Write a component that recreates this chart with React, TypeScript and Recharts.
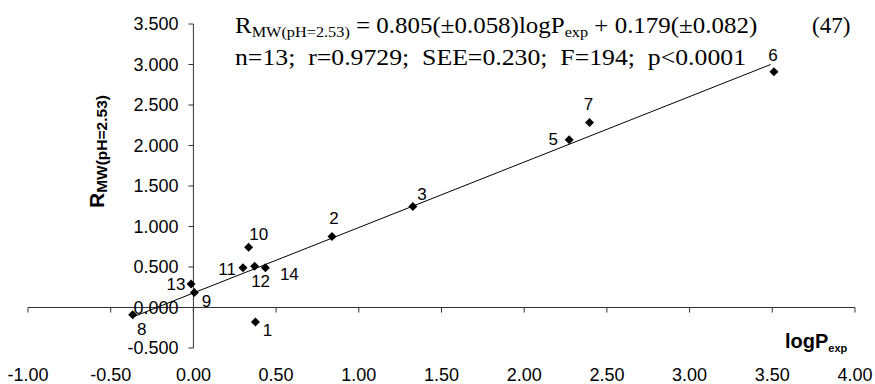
import { ScatterChart, Scatter, XAxis, YAxis, ReferenceLine } from 'recharts'

// compound numbers with measured logP and R_MW at pH 2.53
const compoundIds = ['1', '2', '3', '5', '6', '7', '8', '9', '10', '11', '12', '13', '14']
const logPexp = [0.375, 0.838, 1.327, 2.272, 3.51, 2.395, -0.367, 0.006, 0.334, 0.3, 0.37, -0.014, 0.435]
const rmw = [-0.18, 0.877, 1.247, 2.07, 2.91, 2.284, -0.09, 0.185, 0.745, 0.49, 0.51, 0.29, 0.49]

const xTicks = [-1, -0.5, 0, 0.5, 1, 1.5, 2, 2.5, 3, 3.5, 4]
const yTicks = [-0.5, 0, 0.5, 1, 1.5, 2, 2.5, 3, 3.5]

// trend line end points
const trendLine = [
  { x: -0.37, y: -0.12 },
  { x: 3.49, y: 3.0 },
]

// where each number sits relative to its diamond (px)
const labelOffsets: Record<string, [number, number]> = {
  '1': [12, 8],
  '2': [2, -18],
  '3': [9, -12],
  '5': [-16, 0],
  '6': [-1, -16],
  '7': [-1, -18],
  '8': [9, 15],
  '9': [12, 9],
  '10': [10, -13],
  '11': [-16, 2],
  '12': [6, 15],
  '13': [-15, 0],
  '14': [24, 7],
}

const points = compoundIds.map((id, i) => ({ id, x: logPexp[i], y: rmw[i] }))

const sans = 'Arial, "Liberation Sans", Helvetica, sans-serif'
const serif = '"Times New Roman", "Liberation Serif", Times, serif'
const axisColor = '#333'

const Diamond = (props: any) => {
  const { cx, cy, payload } = props
  const [dx, dy] = labelOffsets[payload.id] ?? [0, 0]
  const r = 4.5
  return (
    <g>
      <polygon
        points={`${cx},${cy - r} ${cx + r},${cy} ${cx},${cy + r} ${cx - r},${cy}`}
        fill="#000"
      />
      <text
        x={cx + dx}
        y={cy + dy}
        textAnchor="middle"
        dominantBaseline="central"
        fontSize={17}
        fontFamily={sans}
        fill="#000"
      >
        {payload.id}
      </text>
    </g>
  )
}

const fmtY = (v: number) => v.toFixed(3)
const fmtX = (v: number) => v.toFixed(2)

export default function App() {
  return (
    <div style={{ position: 'absolute', left: 0, top: 0, width: 875, height: 384, background: '#fff' }}>
      <ScatterChart
        width={875}
        height={384}
        margin={{ top: 24, right: 20, bottom: 0, left: 28 }}
      >
        <XAxis
          type="number"
          dataKey="x"
          domain={[-1, 4]}
          ticks={xTicks}
          tickFormatter={fmtX}
          axisLine={false}
          tickLine={false}
          tickMargin={14}
          height={36}
          interval={0}
          tick={{ fill: '#000', fontSize: 18, fontFamily: sans }}
        />
        <YAxis type="number" dataKey="y" domain={[-0.5, 3.5]} ticks={yTicks} hide />

        {/* axes crossing at the origin */}
        <ReferenceLine y={0} stroke={axisColor} strokeWidth={1} />
        <ReferenceLine x={0} stroke={axisColor} strokeWidth={1} />
        {xTicks.map((t) => (
          <ReferenceLine
            key={'xt' + t}
            segment={[
              { x: t, y: 0 },
              { x: t, y: -0.062 },
            ]}
            stroke={axisColor}
          />
        ))}
        {yTicks.map((t) => (
          <ReferenceLine
            key={'yt' + t}
            segment={[
              { x: -0.03, y: t },
              { x: 0, y: t },
            ]}
            stroke={axisColor}
            label={{
              value: fmtY(t),
              position: 'left',
              offset: 10,
              fill: '#000',
              fontSize: 18,
              fontFamily: sans,
            }}
          />
        ))}

        <ReferenceLine segment={trendLine} stroke="#000" strokeWidth={1} />

        <Scatter data={points} shape={<Diamond />} isAnimationActive={false} />
      </ScatterChart>

      <svg
        width={875}
        height={384}
        style={{ position: 'absolute', left: 0, top: 0, pointerEvents: 'none' }}
      >
        <g transform="translate(235,33) scale(1.085,1)">
          <text x={0} y={0} fontFamily={serif} fontSize={23} fill="#000" style={{ whiteSpace: 'pre' }}>
            R
            <tspan fontSize={15} dy={4}>MW(pH=2.53)</tspan>
            <tspan dy={-4}> = 0.805(±0.058)logP</tspan>
            <tspan fontSize={15} dy={4}>exp</tspan>
            <tspan dy={-4}> + 0.179(±0.082)</tspan>
          </text>
        </g>
        <text x={812} y={33} fontFamily={serif} fontSize={23} fill="#000">
          (47)
        </text>
        <g transform="translate(235,65) scale(1.12,1)">
          <text x={0} y={0} fontFamily={serif} fontSize={23} fill="#000" style={{ whiteSpace: 'pre' }}>
            {'n=13;  r=0.9729;  SEE=0.230;  F=194;  p<0.0001'}
          </text>
        </g>

        <text
          transform="translate(104,208) rotate(-90)"
          fontFamily={sans}
          fontWeight="bold"
          fill="#000"
        >
          <tspan fontSize={21}>R</tspan>
          <tspan fontSize={15.5} dy={3}>MW(pH=2.53)</tspan>
        </text>

        <text x={785} y={348} fontFamily={sans} fontWeight="bold" fill="#000">
          <tspan fontSize={20}>logP</tspan>
          <tspan fontSize={11} dy={4}>exp</tspan>
        </text>
      </svg>
    </div>
  )
}
